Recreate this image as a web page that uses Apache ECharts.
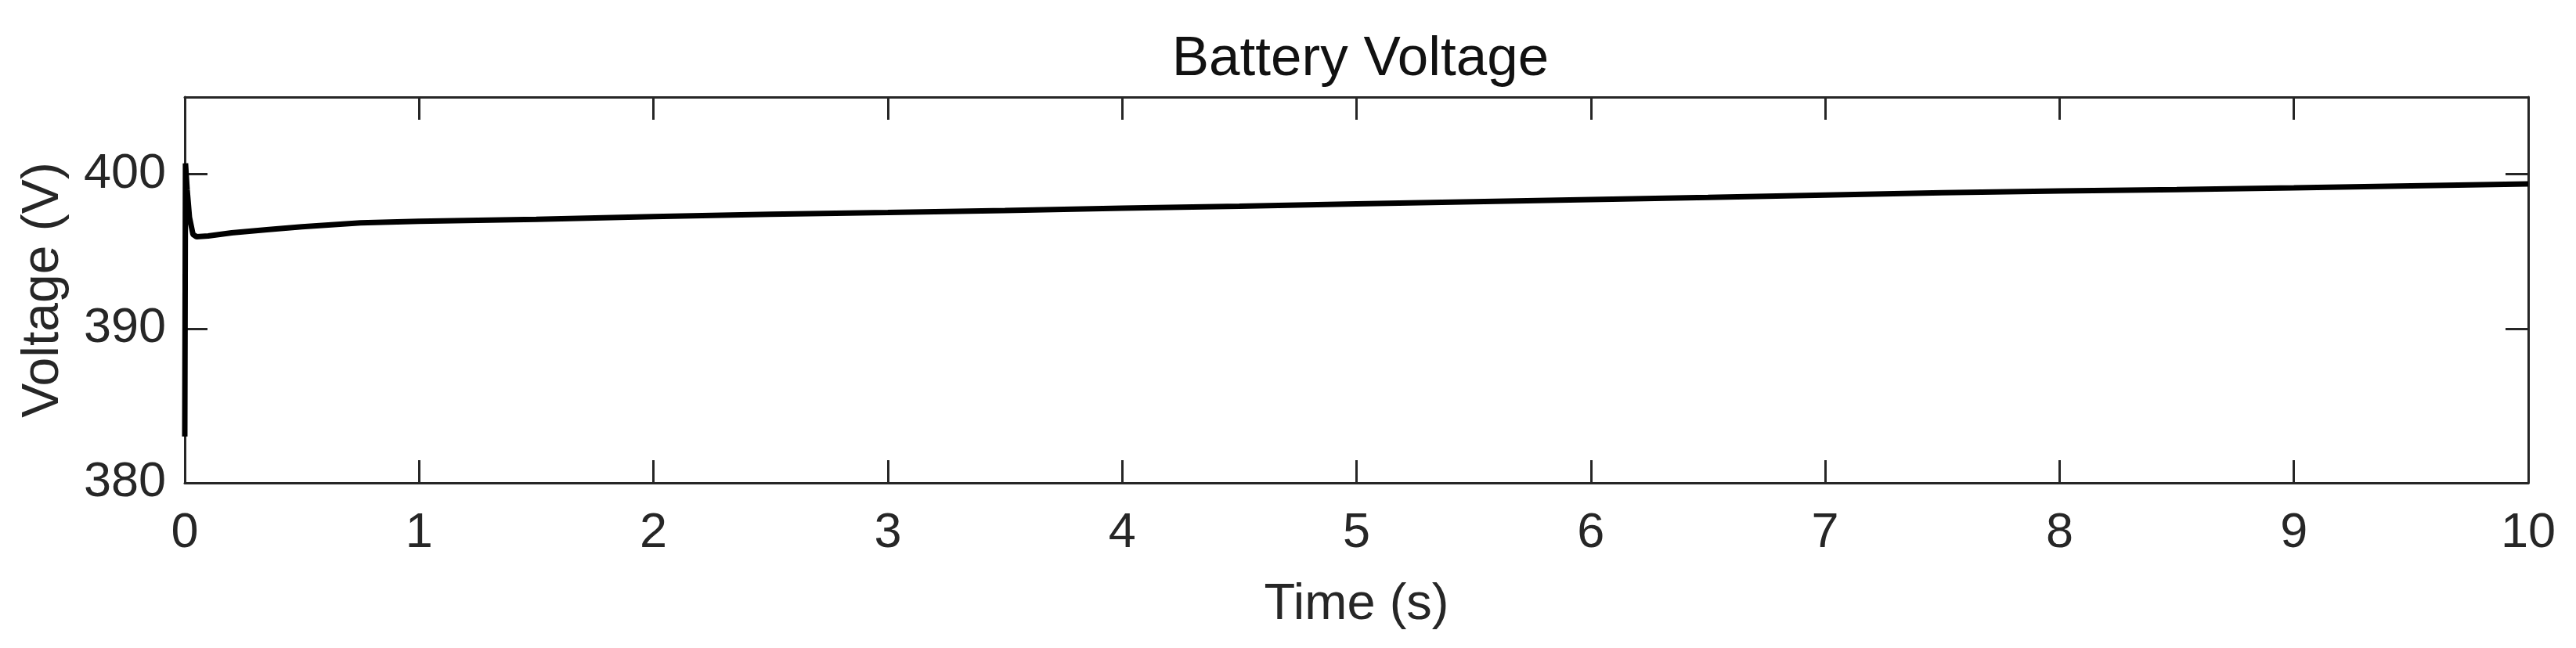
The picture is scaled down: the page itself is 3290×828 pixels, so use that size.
<!DOCTYPE html>
<html>
<head>
<meta charset="utf-8">
<script src="https://cdn.jsdelivr.net/npm/echarts@6/dist/echarts.min.js"></script>
<style>
html,body{margin:0;padding:0;background:#fff;}
#chart{width:3290px;height:828px;}
</style>
</head>
<body>
<div id="chart"></div>
<script>
// ---- data ----
const titleText = 'Battery Voltage';
const xName = 'Time (s)';
const yName = 'Voltage (V)';
const xTicks = [0, 1, 2, 3, 4, 5, 6, 7, 8, 9, 10];
const yTicks = [380, 390, 400];
const times = [0, 0.003, 0.01, 0.02, 0.035, 0.05, 0.1, 0.2, 0.35, 0.5, 0.75, 1, 1.5, 2, 2.5, 3, 3.5, 4, 4.5, 5, 5.5, 6, 6.5, 7, 7.5, 8, 8.5, 9, 9.5, 10];
const volts = [383.0, 400.7, 399.0, 397.2, 396.1, 395.95, 396.0, 396.2, 396.4, 396.6, 396.85, 396.95, 397.08, 397.25, 397.4, 397.52, 397.65, 397.8, 397.93, 398.08, 398.22, 398.36, 398.5, 398.65, 398.8, 398.92, 399.0, 399.12, 399.25, 399.37];

const FONT = '"Liberation Sans", Arial, Helvetica, sans-serif';
const AX = '#262626';
const seriesData = times.map((t, i) => [t, volts[i]]);

const GRID_LEFT = 236, GRID_RIGHT = 61;
const PLOT_CENTER = GRID_LEFT + (3290 - GRID_LEFT - GRID_RIGHT) / 2;

const tickStyle = {show: true, inside: true, length: 29, lineStyle: {color: AX, width: 3}};
const lineStyle = {show: true, onZero: false, lineStyle: {color: AX, width: 3}};

const chart = echarts.init(document.getElementById('chart'), null, {renderer: 'canvas'});
chart.setOption({
  animation: false,
  backgroundColor: '#ffffff',
  title: {
    text: titleText,
    left: PLOT_CENTER,
    textAlign: 'center',
    top: 36,
    textStyle: {fontFamily: FONT, fontSize: 71, fontWeight: 'normal', color: '#111', lineHeight: 71}
  },
  grid: {left: GRID_LEFT, right: GRID_RIGHT, top: 124, bottom: 211, containLabel: false},
  xAxis: [{
    type: 'value', position: 'bottom',
    min: xTicks[0], max: xTicks[xTicks.length - 1], interval: 1,
    name: xName, nameLocation: 'middle', nameGap: 124,
    nameTextStyle: {fontFamily: FONT, fontSize: 65, color: AX, lineHeight: 65},
    axisLine: lineStyle, axisTick: tickStyle,
    axisLabel: {fontFamily: FONT, fontSize: 63, color: AX, margin: 33, lineHeight: 63},
    splitLine: {show: false}
  }, {
    type: 'value', position: 'top',
    min: xTicks[0], max: xTicks[xTicks.length - 1], interval: 1,
    axisLine: lineStyle, axisTick: tickStyle,
    axisLabel: {show: false}, splitLine: {show: false}
  }],
  yAxis: [{
    type: 'value', position: 'left',
    min: 380, max: 405, interval: 10,
    name: yName, nameLocation: 'middle', nameGap: 147,
    nameTextStyle: {fontFamily: FONT, fontSize: 66, color: AX, lineHeight: 66},
    axisLine: lineStyle, axisTick: tickStyle,
    axisLabel: {fontFamily: FONT, fontSize: 63, color: AX, margin: 24,
      formatter: v => (yTicks.indexOf(v) >= 0 ? String(v) : '')},
    splitLine: {show: false}
  }, {
    type: 'value', position: 'right',
    min: 380, max: 405, interval: 10,
    axisLine: lineStyle, axisTick: tickStyle,
    axisLabel: {show: false}, splitLine: {show: false}
  }],
  series: [{
    type: 'line',
    xAxisIndex: 0, yAxisIndex: 0,
    data: seriesData,
    showSymbol: false,
    smooth: false,
    lineStyle: {color: '#000', width: 7},
    clip: true
  }]
});
</script>
</body>
</html>
